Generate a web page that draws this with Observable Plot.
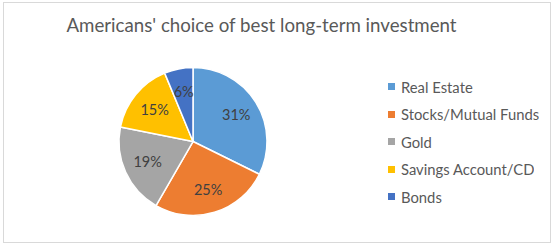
<!DOCTYPE html>
<html>
<head>
<meta charset="utf-8">
<script src="https://cdn.jsdelivr.net/npm/d3@7"></script>
<script src="https://cdn.jsdelivr.net/npm/@observablehq/plot@0.6"></script>
<style>
  body { margin: 0; background: #fff; font-family: Lato, "Open Sans", sans-serif; }
  #wrap { position: relative; width: 555px; height: 245px; overflow: hidden; }
  #frame { position: absolute; left: 3px; top: 2px; width: 548px; height: 241px; border: 1px solid #d9d9d9; box-sizing: border-box; }
  #title { position: absolute; left: 0; width: 523px; top: 13px; text-align: center; font-size: 18.7px; color: #595959; line-height: 24px; white-space: nowrap; }
  #chart { position: absolute; left: 0; top: 0; }
  #legend { position: absolute; left: 388px; top: 73px; }
  .lg-swatches { font-family: Lato, "Open Sans", sans-serif !important; font-size: 14.8px !important; color: #595959 !important; margin: 0 !important; }
  .lg-swatch { height: 27.5px; padding: 0 !important; margin: 0 !important; font-size: 14.8px !important; }
  .lg-swatch svg { margin-right: 6px !important; }
</style>
</head>
<body>
<div id="wrap">
  <div id="frame"></div>
  <div id="title">Americans' choice of best long-term investment</div>
  <div id="chart"></div>
  <div id="legend"></div>
</div>
<script>
const categories = ["Real Estate", "Stocks/Mutual Funds", "Gold", "Savings Account/CD", "Bonds"];
const values = [31, 25, 19, 15, 6];
const labels = ["31%", "25%", "19%", "15%", "6%"];
const colors = ["#5B9BD5", "#ED7D31", "#A5A5A5", "#FFC000", "#4472C4"];

const data = categories.map((c, i) => ({category: c, value: values[i], label: labels[i]}));
const arcs = d3.pie().sort(null).value(d => d.value)(data);
const slices = arcs.map(a => {
  const mid = (a.startAngle + a.endAngle) / 2;
  return {...a.data, startAngle: a.startAngle, endAngle: a.endAngle,
          lx: 0.68 * Math.sin(mid), ly: 0.68 * Math.cos(mid)};
});

const cx = 193, cy = 141.5, R = 74;
const W = 555, H = 245;

const color = {domain: categories, range: colors};

const wedges = Plot.dot(slices, {
  x: () => 0, y: () => 0,
  render(index, scales, values, dimensions, context) {
    const x0 = scales.x(0), y0 = scales.y(0);
    const r = scales.x(1) - scales.x(0);
    const arc = d3.arc().innerRadius(0).outerRadius(r);
    const g = d3.create("svg:g").attr("transform", `translate(${x0},${y0})`);
    g.selectAll("path").data(Array.from(index, i => slices[i])).join("path")
      .attr("d", d => arc(d))
      .attr("fill", d => scales.color(d.category))
      .attr("stroke", "#fff")
      .attr("stroke-width", 1.5)
      .attr("stroke-linejoin", "round");
    return g.node();
  }
});

const plot = Plot.plot({
  width: W, height: H,
  marginLeft: cx - R, marginRight: W - (cx + R),
  marginTop: cy - R, marginBottom: H - (cy + R),
  x: {domain: [-1, 1], axis: null},
  y: {domain: [-1, 1], axis: null},
  color,
  style: {background: "transparent", overflow: "visible"},
  marks: [
    wedges,
    Plot.text(slices, {x: "lx", y: "ly", text: "label", fill: "#404040",
      fontSize: 14.5, fontFamily: "Lato, 'Open Sans', sans-serif"})
  ]
});
document.getElementById("chart").appendChild(plot);

const legend = Plot.legend({color, legend: "swatches", columns: 1, swatchSize: 7, className: "lg"});
document.getElementById("legend").appendChild(legend);
</script>
</body>
</html>
